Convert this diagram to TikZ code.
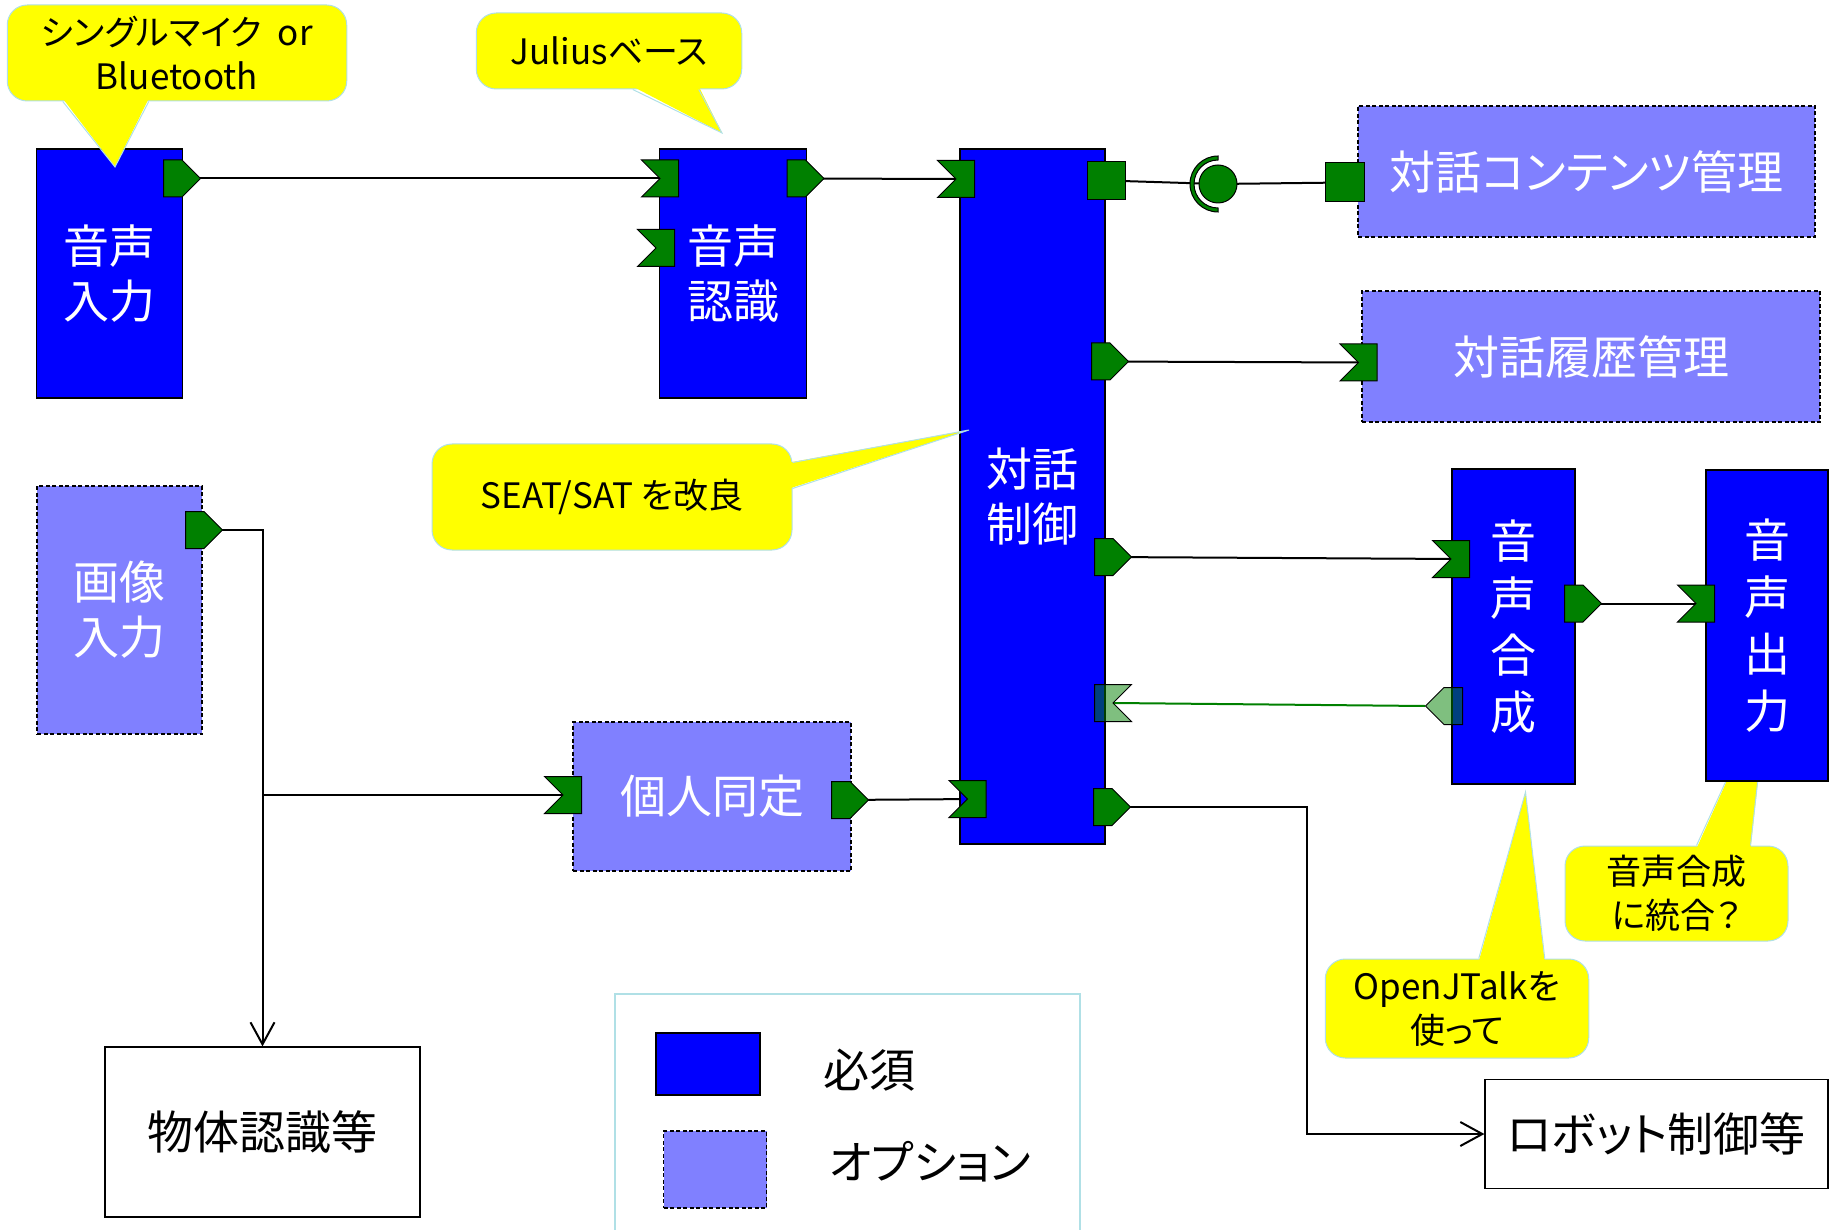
\documentclass[tikz,border=0pt]{standalone}
\usepackage{fontspec}
\setmainfont{Noto Sans CJK JP}[RawFeature=+palt]
\usepackage{tikz}
\usetikzlibrary{shapes.symbols,calc,backgrounds,arrows.meta}

\definecolor{mustblue}{RGB}{0,0,255}
\definecolor{optblue}{RGB}{128,128,255}
\definecolor{portgreen}{RGB}{0,128,0}
\definecolor{noteyellow}{RGB}{255,255,0}
\definecolor{noteedge}{RGB}{176,224,230}

\begin{document}
\begin{tikzpicture}
[x=1pt,y=-1pt]
\tikzset{
	musthave/.style = {draw, line width=1.2pt, fill=mustblue, text=white, inner sep=0, align=center, font=\fontsize{46}{55}\selectfont},
	optional/.style = {draw, line width=1.2pt, dash pattern=on 4pt off 2.5pt, fill=optblue, text=white, inner sep=0, align=center, font=\fontsize{46}{55}\selectfont},
	plainbox/.style = {draw, line width=1.2pt, fill=white, inner sep=0, align=center, font=\fontsize{46}{55}\selectfont},
	outport/.style = {signal, signal to=east, draw, line width=1pt, fill=portgreen, inner sep=0, minimum width=37pt, minimum height=37pt, anchor=west},
	inport/.style = {signal, signal to=nowhere, signal from=west, draw, line width=1pt, fill=portgreen, inner sep=0, minimum width=37pt, minimum height=37pt, anchor=east},
	svcport/.style = {draw, line width=1pt, fill=portgreen, inner sep=0, minimum size=38pt},
	note/.style = {draw=noteedge, line width=1pt, fill=noteyellow, rounded corners=20pt, inner sep=0, align=center, font=\fontsize{35}{44}\selectfont},
	noteside/.style = {draw=noteedge, line width=1pt},
	flow/.style = {draw, line width=2pt},
	backflow/.style = {draw=portgreen, line width=2pt},
	openhead/.style = {-{Straight Barb[length=22pt,width=24pt]}}
}

\useasboundingbox (0,0) rectangle (1829,1230);

\node (mergenote) [note, minimum width=223pt, minimum height=95pt] at (1676.5,893.5) {音声合成\\に統合？};
\coordinate (mergetip) at (1768,689);
\fill[noteyellow] ($(mergenote.north west)+(132,3)$) -- (mergetip) -- ($(mergenote.north west)+(186,3)$) -- cycle;
\draw[noteside] ($(mergenote.north west)+(132,0)$) -- (mergetip) -- ($(mergenote.north west)+(186,0)$);

\node (micin) [musthave, minimum width=146.5pt, minimum height=249pt] at (109.5,273.5) {音声\\入力};
\node (asr) [musthave, minimum width=146.5pt, minimum height=249pt] at (733,273.5) {音声\\認識};
\node (dialog) [musthave, minimum width=145pt, minimum height=695pt] at (1032.5,496.5) {対話\\制御};
\node (contents) [optional, minimum width=457pt, minimum height=131pt] at (1586.5,171.5) {対話コンテンツ管理};
\node (history) [optional, minimum width=458pt, minimum height=131pt] at (1591,356.5) {対話履歴管理};
\node (tts) [musthave, minimum width=123pt, minimum height=315pt, font=\fontsize{46}{57}\selectfont] at (1513.5,626.5) {音\\声\\合\\成};
\node (speaker) [musthave, minimum width=122pt, minimum height=311pt, font=\fontsize{46}{57}\selectfont] at (1767,625.5) {音\\声\\出\\力};
\node (camera) [optional, minimum width=165pt, minimum height=248pt] at (119.5,610) {画像\\入力};
\node (personid) [optional, minimum width=278pt, minimum height=149pt] at (712,796.5) {個人同定};
\node (objrec) [plainbox, minimum width=315pt, minimum height=170pt] at (262.5,1132) {物体認識等};
\node (robot) [plainbox, minimum width=343pt, minimum height=109pt] at (1656.5,1134) {ロボット制御等};

\node (p_micout) [outport] at (163,178.5) {};
\node (p_asrin1) [inport] at (679,178.5) {};
\node (p_asrin2) [inport] at (675,248) {};
\node (p_asrout) [outport] at (786.5,178.5) {};
\node (p_dmin1) [inport] at (975,179) {};
\node (p_dmsvc) [svcport] at (1106,180.5) {};
\node (p_contsvc) [svcport, minimum size=39pt] at (1344.5,182.5) {};
\node (p_dmout2) [outport] at (1091,361.5) {};
\node (p_histin) [inport] at (1377.5,362.5) {};
\node (p_dmout3) [outport] at (1094,557) {};
\node (p_ttsin) [inport] at (1470,559) {};
\node (p_ttsout) [outport] at (1564,603.5) {};
\node (p_spkin) [inport] at (1715,603.5) {};
\node (p_ttsback) [outport, signal to=west, anchor=east, fill opacity=0.5, draw opacity=1] at (1463,706) {};
\node (p_dmback) [inport, signal from=east, anchor=west, fill opacity=0.5, draw opacity=1] at (1094,703) {};
\node (p_idout) [outport] at (831,800) {};
\node (p_dmin2) [inport] at (986.5,799) {};
\node (p_dmout4) [outport] at (1093,807) {};
\node (p_camout) [outport] at (185,530) {};
\node (p_idin) [inport] at (582,795) {};

\node (ball) [circle, draw, line width=1pt, fill=portgreen, minimum size=38pt, inner sep=0] at (1218,184) {};
\filldraw[fill=portgreen, line width=1pt] ($(ball.center)+(0,28)$) arc[start angle=90, end angle=270, radius=28] -- ++(0,4) arc[start angle=270, end angle=90, radius=24] -- cycle;

\node (micnote) [note, minimum width=339.5pt, minimum height=96pt] at (177,53) {シングルマイク\ \ or\\Bluetooth};
\coordinate (mictip) at (115,167);
\fill[noteyellow] ($(micnote.south west)+(56,-3)$) -- (mictip) -- ($(micnote.south west)+(142,-3)$) -- cycle;
\draw[noteside] ($(micnote.south west)+(56,0)$) -- (mictip) -- ($(micnote.south west)+(142,0)$);

\node (juliusnote) [note, minimum width=265.5pt, minimum height=76pt] at (609,51) {Juliusベース};
\coordinate (juliustip) at (722,133);
\fill[noteyellow] ($(juliusnote.south west)+(157,-3)$) -- (juliustip) -- ($(juliusnote.south west)+(223,-3)$) -- cycle;
\draw[noteside] ($(juliusnote.south west)+(157,0)$) -- (juliustip) -- ($(juliusnote.south west)+(223,0)$);

\node (seatnote) [note, minimum width=360pt, minimum height=106pt] at (612,497) {SEAT/SAT を改良};
\coordinate (seattip) at (969,430);
\fill[noteyellow] ($(seatnote.north east)+(-3,19)$) -- (seattip) -- ($(seatnote.north east)+(-3,45)$) -- cycle;
\draw[noteside] ($(seatnote.north east)+(0,19)$) -- (seattip) -- ($(seatnote.north east)+(0,45)$);

\node (jtalknote) [note, minimum width=263.5pt, minimum height=99pt] at (1457,1008.5) {OpenJTalkを\\使って};
\coordinate (jtalktip) at (1525.5,792);
\fill[noteyellow] ($(jtalknote.north west)+(154,3)$) -- (jtalktip) -- ($(jtalknote.north west)+(220,3)$) -- cycle;
\draw[noteside] ($(jtalknote.north west)+(154,0)$) -- (jtalktip) -- ($(jtalknote.north west)+(220,0)$);

\node (legend) [draw=noteedge, line width=1.2pt, minimum width=465pt, minimum height=240pt] at (847.5,1114) {};
\node (legmust) [musthave, minimum width=104pt, minimum height=62pt] at (708,1064) {};
\node (legopt) [optional, minimum width=103pt, minimum height=77pt] at (715,1169.5) {};
\node (legmusttext) [inner sep=0, font=\fontsize{46}{55}\selectfont] at (869.5,1070) {必須};
\node (legopttext) [inner sep=0, font=\fontsize{46}{55}\selectfont] at (930,1162) {オプション};

\coordinate (robotbend) at (1307,807);
\begin{pgfonlayer}{background}
	\draw[flow] (p_micout.center) -- (p_asrin1.center);
	\draw[flow] (p_asrout.center) -- (p_dmin1.center);
	\draw[flow] (p_dmsvc.center) -- (ball.center);
	\draw[flow] (ball.center) -- (p_contsvc.center);
	\draw[flow] (p_dmout2.center) -- (p_histin.center);
	\draw[flow] (p_dmout3.center) -- (p_ttsin.center);
	\draw[flow] (p_ttsout.center) -- (p_spkin.center);
	\draw[flow] (p_idout.center) -- (p_dmin2.center);
	\draw[backflow] (p_ttsback.west) -- (p_dmback.east);
	\draw[flow, openhead] (p_dmout4.center) -- (robotbend) |- (robot.west);
	\draw[flow, openhead] (p_camout.center) -| (objrec.north);
	\draw[flow] (objrec.north |- p_idin.center) -- (p_idin.center);
\end{pgfonlayer}

\end{tikzpicture}
\end{document}
